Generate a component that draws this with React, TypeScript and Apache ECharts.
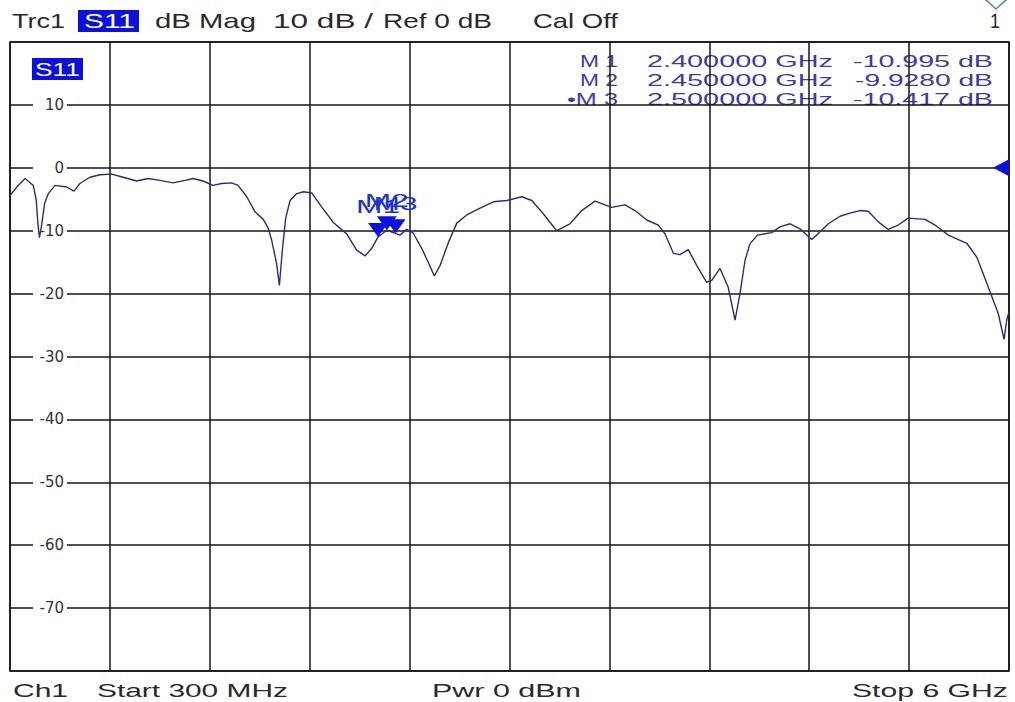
import React, { useEffect, useRef } from "react";
import * as echarts from "echarts";

// ---------------- data ----------------
const startGHz = 0.3;
const stopGHz = 6;
const refLevelDb = 0;
const yMinDb = -80;
const yMaxDb = 20;
const yStepDb = 10;

const traceFreqGHz = [
  0.3, 0.347, 0.386, 0.433, 0.45, 0.459, 0.468, 0.479, 0.498, 0.519, 0.557, 0.624, 0.665, 0.699, 0.756,
  0.814, 0.88, 0.945, 1.023, 1.087, 1.156, 1.23, 1.299, 1.344, 1.401, 1.458, 1.508, 1.565, 1.601, 1.651,
  1.698, 1.745, 1.772, 1.793, 1.821, 1.837, 1.853, 1.873, 1.898, 1.936, 1.974, 2.022, 2.078, 2.145, 2.221,
  2.278, 2.326, 2.364, 2.4, 2.45, 2.5, 2.525, 2.563, 2.601, 2.649, 2.696, 2.721, 2.753, 2.801, 2.849,
  2.906, 2.982, 3.058, 3.134, 3.22, 3.277, 3.343, 3.419, 3.495, 3.562, 3.638, 3.733, 3.809, 3.866, 3.933,
  3.999, 4.037, 4.085, 4.123, 4.17, 4.218, 4.275, 4.304, 4.351, 4.398, 4.437, 4.465, 4.494, 4.522, 4.565,
  4.646, 4.693, 4.751, 4.808, 4.874, 4.903, 4.969, 5.036, 5.093, 5.15, 5.197, 5.254, 5.311, 5.368, 5.425,
  5.521, 5.578, 5.654, 5.759, 5.816, 5.892, 5.939, 5.972, 5.987, 6.0,
];
const traceDb = [
  -4.4, -2.8, -1.7, -2.8, -5.2, -8.8, -11.1, -9.4, -5.6, -4.1, -2.8, -3.05, -3.7, -2.5, -1.5,
  -1.1, -1.0, -1.5, -2.1, -1.7, -2.0, -2.4, -2.0, -1.7, -2.1, -2.8, -2.5, -2.4, -2.8, -4.6,
  -7.0, -8.2, -9.5, -11.5, -15.2, -18.7, -13.4, -8.0, -5.2, -4.1, -3.8, -4.0, -6.2, -8.7, -10.5,
  -13.1, -14.0, -12.8, -10.995, -9.928, -10.417, -10.7, -9.8, -10.4, -12.8, -15.6, -17.2, -15.6, -11.9, -8.8,
  -7.5, -6.4, -5.4, -5.2, -4.6, -5.2, -7.3, -10.0, -8.9, -6.8, -5.3, -6.3, -5.9, -6.8, -8.3,
  -9.1, -10.5, -13.6, -13.8, -13.0, -15.5, -18.2, -17.9, -16.0, -19.0, -24.2, -20.0, -14.7, -12.1, -10.7,
  -10.3, -9.4, -8.9, -9.7, -11.4, -10.7, -8.9, -7.7, -7.2, -6.8, -6.9, -8.6, -9.8, -9.1, -8.0,
  -8.2, -9.1, -10.7, -12.0, -14.2, -19.7, -23.2, -27.3, -24.2, -22.9,
];

const markerNames = ["M1", "M2", "M3"];
const markerFreqGHz = [2.4, 2.45, 2.5];
const markerDb = [-10.995, -9.928, -10.417];
const activeMarker = 2;

const headerTexts = ["Trc1", "S11", "dB Mag", "10 dB /", "Ref 0 dB", "Cal Off"];
const footerTexts = ["Ch1", "Start 300 MHz", "Pwr 0 dBm", "Stop 6 GHz"];
const channelNumber = "1";

// ---------------- style ----------------
const FONT = "'Liberation Sans', Arial, sans-serif";
const BLUE = "#0c10dc";
const TRACE = "#2a2a82";
const TABLE = "#3c3ca8";
const GRIDC = "#141414";

let measureCtx: CanvasRenderingContext2D | null = null;
function measure(text: string, size: number, family: string) {
  if (!measureCtx) measureCtx = document.createElement("canvas").getContext("2d");
  measureCtx!.font = `${size}px ${family}`;
  return measureCtx!.measureText(text).width || 1;
}

function stretchText(text: string, left: number, right: number, cy: number, size: number, fill: string, z = 0) {
  const w = measure(text, size, FONT);
  return {
    type: "text",
    x: left,
    y: cy,
    scaleX: (right - left) / w,
    z,
    silent: true,
    style: {
      text,
      fontSize: size,
      fontFamily: FONT,
      fill,
      align: "left",
      verticalAlign: "middle",
      textAlign: "left",
      textVerticalAlign: "middle",
    },
  };
}

export default function App() {
  const ref = useRef<HTMLDivElement>(null);

  useEffect(() => {
    const el = ref.current!;
    const chart = echarts.init(el, null, { renderer: "svg" });

    const data = traceFreqGHz.map((f, i) => [f, traceDb[i]]);

    const option: any = {
      animation: false,
      backgroundColor: "#ffffff",
      grid: {
        left: 10,
        top: 42,
        width: 999,
        height: 629,
        show: true,
        borderColor: GRIDC,
        borderWidth: 1.5,
        backgroundColor: "transparent",
        z: 1,
      },
      xAxis: [
        { type: "value", min: startGHz, max: stopGHz, show: false },
        {
          type: "value",
          min: 0,
          max: 10,
          interval: 1,
          z: 1,
          axisLine: { show: false },
          axisTick: { show: false },
          axisLabel: { show: false },
          splitLine: { show: true, lineStyle: { color: GRIDC, width: 1.5 } },
        },
      ],
      yAxis: [
        {
          type: "value",
          position: "left",
          min: yMinDb,
          max: yMaxDb,
          interval: yStepDb,
          z: 1,
          axisLine: { show: false },
          axisTick: { show: false },
          axisLabel: { show: false },
          splitLine: { show: true, lineStyle: { color: GRIDC, width: 1.5 } },
        },
        {
          type: "value",
          position: "left",
          offset: 0,
          min: yMinDb,
          max: yMaxDb,
          interval: yStepDb,
          z: 2,
          axisLine: { show: false },
          axisTick: { show: false },
          splitLine: { show: false },
          axisLabel: {
            inside: true,
            showMinLabel: false,
            showMaxLabel: false,
            margin: 57,
            align: "right",
            width: 28,
            padding: [1, 3, 1, 3],
            backgroundColor: "#ffffff",
            color: "#333333",
            fontSize: 15,
            fontFamily: "DejaVu Sans",
          },
        },
      ],
      series: [
        {
          type: "line",
          xAxisIndex: 0,
          yAxisIndex: 0,
          data,
          symbol: "none",
          showSymbol: false,
          z: 3,
          lineStyle: { color: TRACE, width: 1.4 },
          markPoint: {
            silent: true,
            label: { show: false },
            data: [
              ...markerFreqGHz.map((f, i) => ({
                coord: [f, markerDb[i]],
                symbol: "triangle",
                symbolRotate: 180,
                symbolSize: [20, 14],
                symbolOffset: [0, -7],
                itemStyle: { color: BLUE },
              })),
              {
                coord: [stopGHz, refLevelDb],
                symbol: "triangle",
                symbolRotate: 90,
                symbolSize: [17, 16],
                symbolOffset: [-8, 0],
                itemStyle: { color: BLUE },
              },
            ],
          },
        },
      ],
    };

    chart.setOption(option);

    // marker table rows built from marker arrays
    const rowY = [61.5, 80.5, 99.5];
    const rows = markerFreqGHz.map((f, i) => [
      (i === activeMarker ? "\u2022" : "") + "M " + (i + 1),
      f.toFixed(6) + " GHz",
      markerDb[i].toPrecision(5) + " dB",
    ]);
    const tableEls: any[] = [];
    rows.forEach((r, i) => {
      tableEls.push(stretchText(r[0], i === activeMarker ? 567 : 580, 618, rowY[i], 17, TABLE, 0));
      tableEls.push(stretchText(r[1], 647, 833, rowY[i], 17, TABLE, 0));
      tableEls.push(stretchText(r[2], r[2].startsWith("-9") ? 855 : 853, 993, rowY[i], 17, TABLE, 0));
    });

    // marker labels placed through the series' coordinate system
    const labelEls = markerNames.map((n, i) => {
      const p = chart.convertToPixel({ seriesIndex: 0 }, [markerFreqGHz[i], markerDb[i]]) as number[];
      return stretchText(n, p[0] - 22, p[0] + 22, p[1] - 30, 18, "#2233cc", 6);
    });

    const headerPos = [
      [12, 65],
      [84, 135],
      [155, 256],
      [273, 373],
      [383, 492],
      [533, 618],
    ];
    const headerEls: any[] = [
      { type: "rect", shape: { x: 78, y: 10, width: 61, height: 22 }, style: { fill: BLUE }, z: 0, silent: true },
      ...headerTexts.map((t, i) =>
        stretchText(t, headerPos[i][0], headerPos[i][1], 21, 20, i === 1 ? "#ffffff" : "#2a2a2a", 1)
      ),
      stretchText(channelNumber, 990, 1000, 21, 20, "#2a2a2a", 1),
      {
        type: "polygon",
        shape: { points: [[985, -1], [996, 9], [1007, -1], [996, -12]] },
        style: { fill: "#ffffff", stroke: "#4a86e0", lineWidth: 1.6 },
        z: 1,
        silent: true,
      },
      { type: "rect", shape: { x: 32, y: 58, width: 51, height: 22 }, style: { fill: BLUE }, z: 2, silent: true },
      stretchText(headerTexts[1], 35, 80, 69.5, 19, "#ffffff", 3),
    ];

    const footerPos = [
      [13, 68],
      [97, 288],
      [432, 581],
      [852, 1008],
    ];
    const footerEls = footerTexts.map((t, i) => stretchText(t, footerPos[i][0], footerPos[i][1], 690, 19, "#2a2a2a", 1));

    chart.setOption({
      graphic: [{ elements: [...headerEls, ...tableEls, ...footerEls, ...labelEls] }],
    });

    return () => {
      chart.dispose();
    };
  }, []);

  return (
    <div
      ref={ref}
      style={{ position: "absolute", left: 0, top: 0, width: 1015, height: 702, background: "#ffffff" }}
    />
  );
}
